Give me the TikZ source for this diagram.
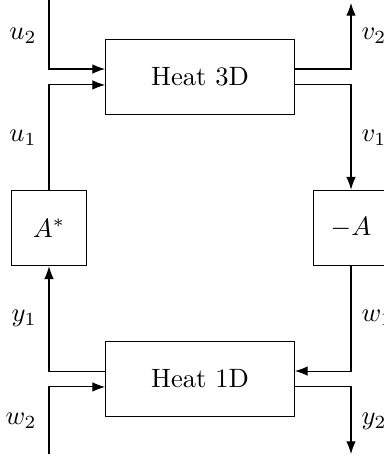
\documentclass[tikz,border=0pt]{standalone}
\usetikzlibrary{arrows.meta}
\begin{document}
\begin{tikzpicture}[x=0.01325cm,y=-0.01325cm,
  blk/.style={draw,minimum width=2.5cm,minimum height=1cm,inner sep=0pt},
  sq/.style={draw,minimum width=1cm,minimum height=1cm,inner sep=0pt},
  arr/.style={-{Latex},line width=0.4pt},
  lblL/.style={anchor=east,inner sep=0pt},
  lblR/.style={anchor=west,inner sep=0pt}]
\useasboundingbox (0,0) rectangle (383,460);
\node[blk] (h3) at (200,77) {Heat 3D};
\node[blk] (h1) at (200,379) {Heat 1D};
\node[sq] (as) at (49,228) {$A^*$};
\node[sq] (ma) at (351,228) {$-A$};
\coordinate (tl) at (49,0);
\coordinate (tr) at (351,3);
\coordinate (bl) at (49,454);
\coordinate (br) at (351,454);
\draw[arr] (tl) |- ([yshift=3pt]h3.west);
\draw[arr] (as.north) |- ([yshift=-3pt]h3.west);
\draw[arr] ([yshift=3pt]h3.east) -| (tr);
\draw[arr] ([yshift=-3pt]h3.east) -| (ma.north);
\draw[arr] (ma.south) |- ([yshift=3pt]h1.east);
\draw[arr] ([yshift=-3pt]h1.east) -| (br);
\draw[arr] ([yshift=3pt]h1.west) -| (as.south);
\draw[arr] (bl) |- ([yshift=-3pt]h1.west);
\node[lblL] (lu2) at (37,36) {$u_2$};
\node[lblL] (lu1) at (37,138) {$u_1$};
\node[lblL] (ly1) at (37,318) {$y_1$};
\node[lblL] (lw2) at (37,421) {$w_2$};
\node[lblR] (lv2) at (361,36) {$v_2$};
\node[lblR] (lv1) at (361,138) {$v_1$};
\node[lblR] (lw1) at (361,318) {$w_1$};
\node[lblR] (ly2) at (361,421) {$y_2$};
\end{tikzpicture}
\end{document}
